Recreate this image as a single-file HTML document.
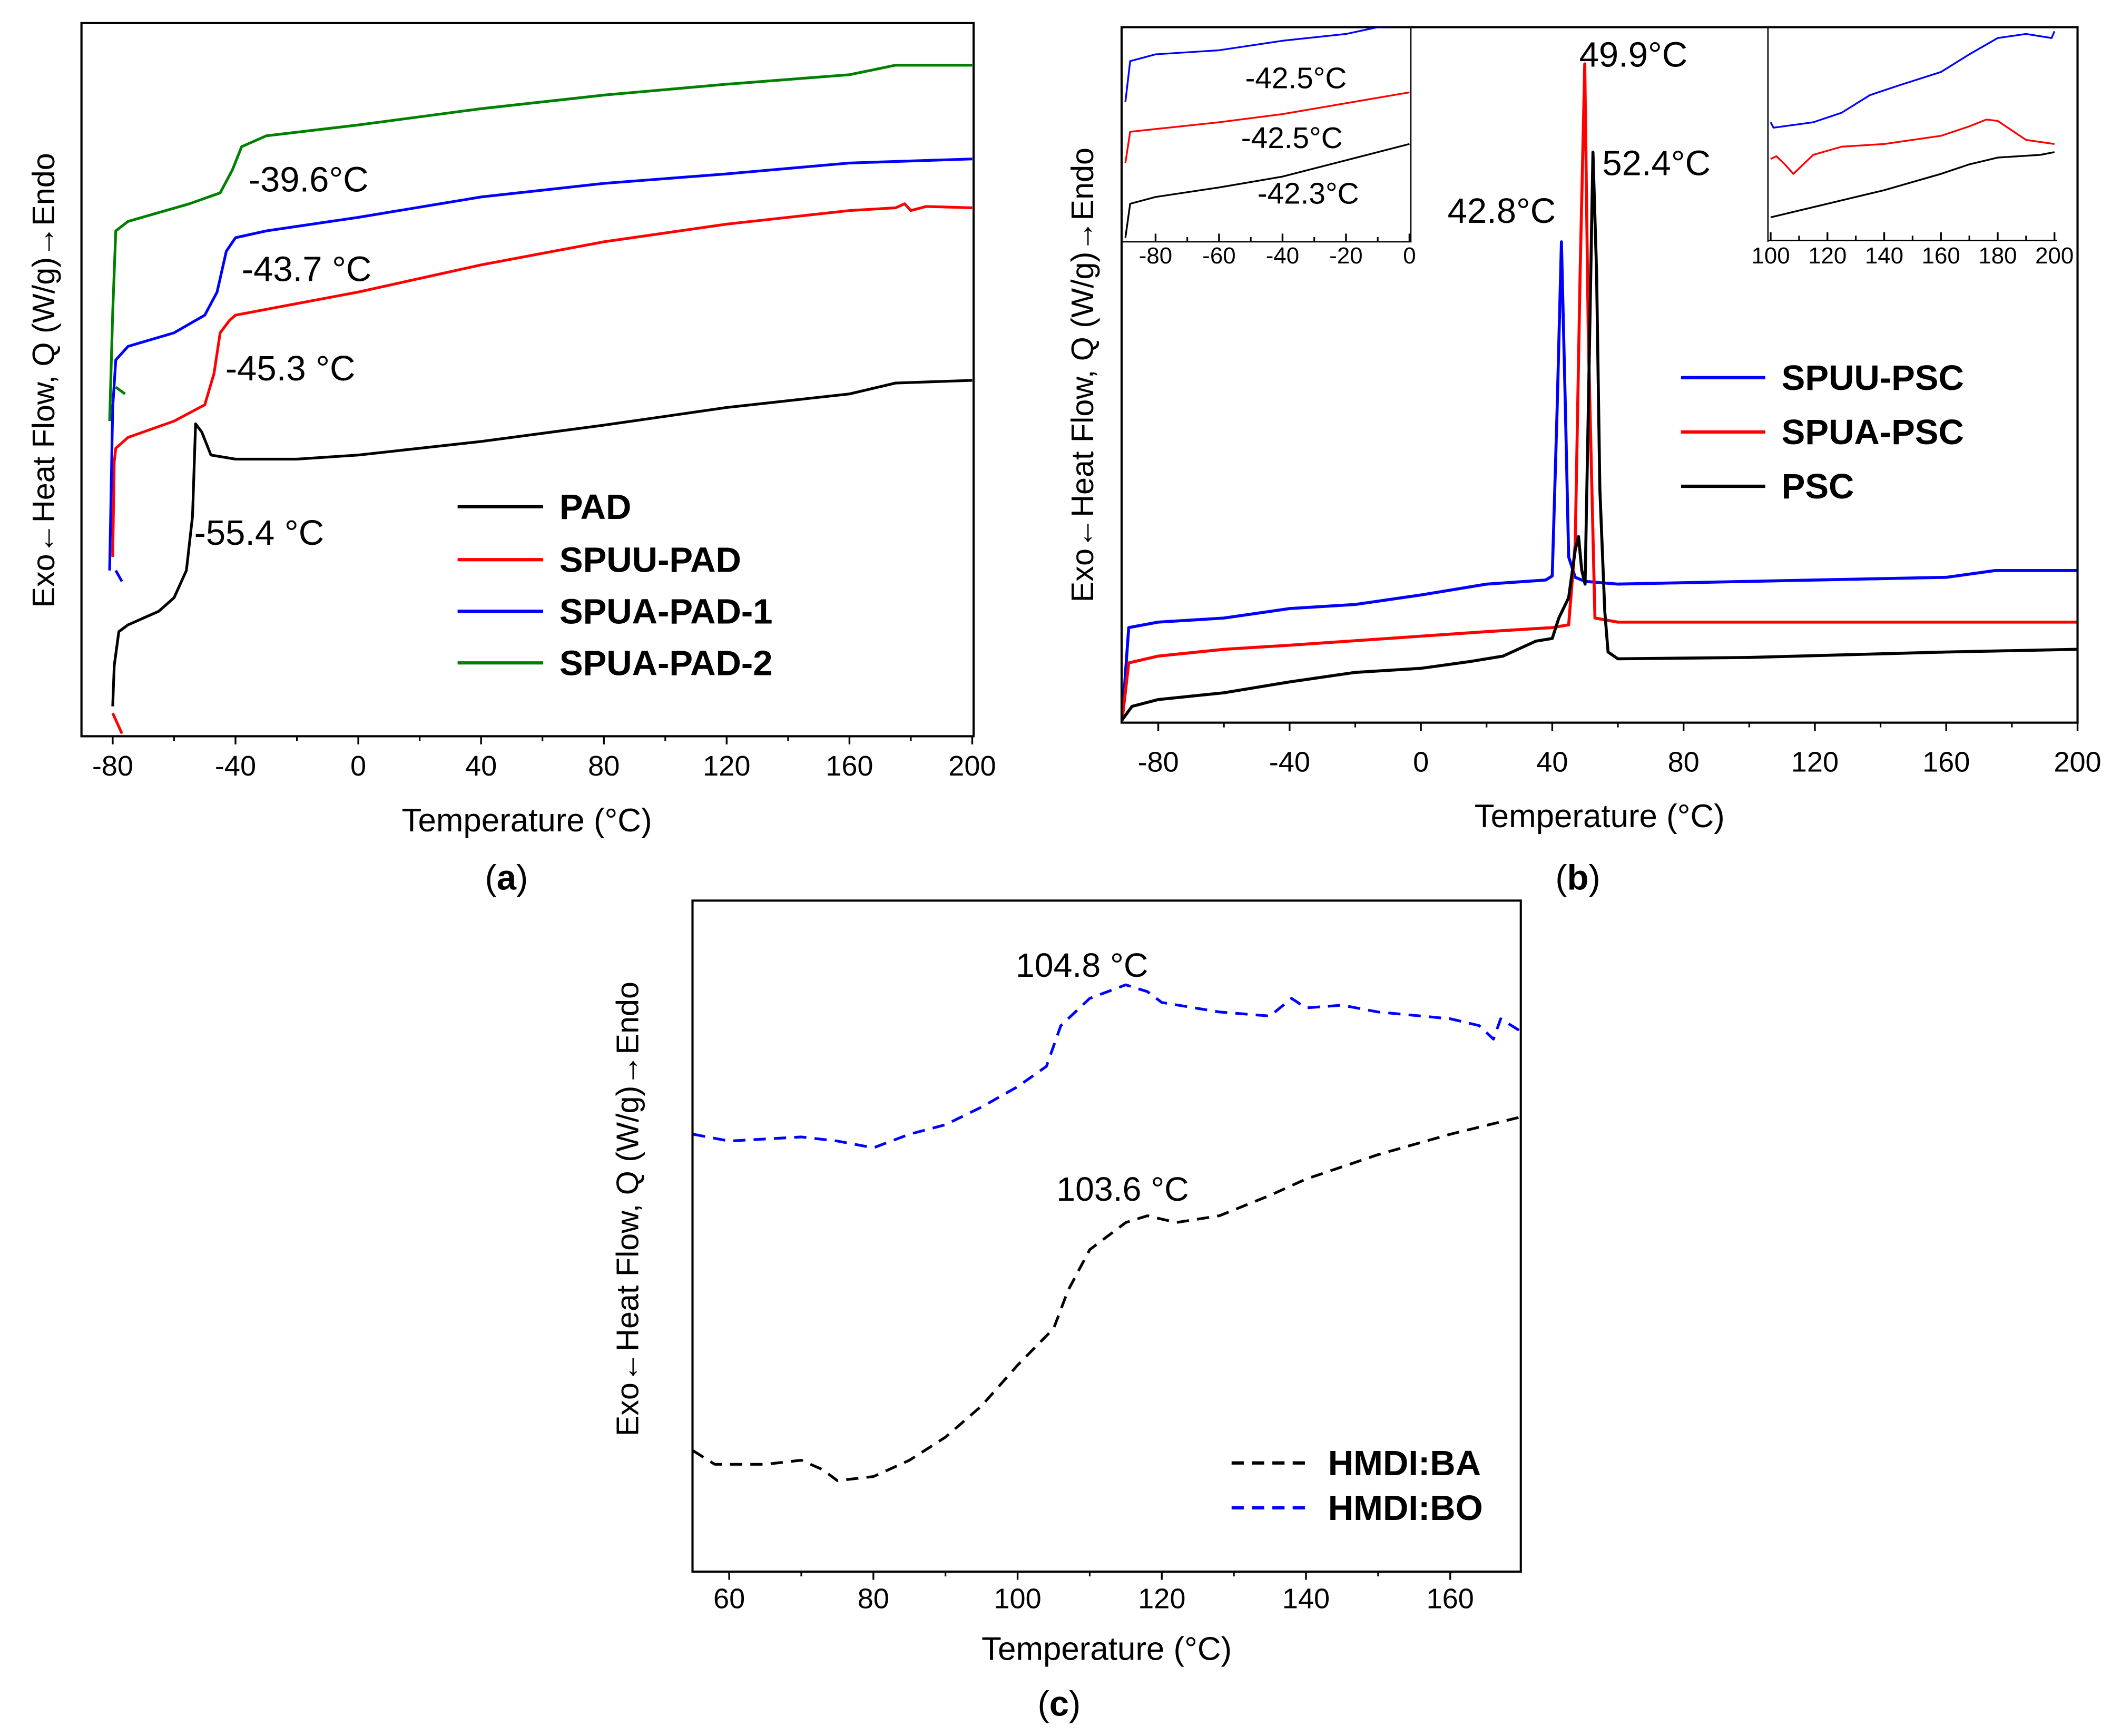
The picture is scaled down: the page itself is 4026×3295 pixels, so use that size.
<!DOCTYPE html>
<html><head><meta charset="utf-8"><style>
html,body{margin:0;padding:0;background:#fff;}
svg{display:block;}
text{font-family:"Liberation Sans",Arial,sans-serif;}
</style></head><body>
<svg id="fig" width="4026" height="3295" viewBox="0 0 1562 1278" preserveAspectRatio="none" xmlns="http://www.w3.org/2000/svg"></svg>
<script>
// ---------- Panel (a) data ----------
const aPadT=[-80,-79.5,-78,-75,-70,-65,-60,-56,-54,-53,-51,-48,-40,-20,0,40,80,120,160,175,200];
const aPadV=[22,52,77,82,87,92,102,122,162,230,224,207,204,204,207,217,229,242,252,260,262];
const aSpuuT=[-80,-79.5,-79,-75,-60,-50,-47,-45,-42,-40,0,40,80,120,160,175,178,180,185,200];
const aSpuuV=[132,202,212,220,232,244,267,297,306,310,327,347,364,377,387,389,392,387,390,389];
const aSpua1T=[-81,-80,-79,-75,-60,-50,-46,-43,-40,-30,0,40,80,120,160,200];
const aSpua1V=[122,242,277,287,297,310,327,357,367,372,382,397,407,414,422,425];
const aSpua2T=[-81,-80,-79,-75,-55,-45,-41,-38,-30,0,40,80,120,160,175,200];
const aSpua2V=[232,312,372,379,392,400,417,434,442,450,462,472,480,487,494,494];
const aTicks=[-80,-40,0,40,80,120,160,200];
// ---------- Panel (b) data ----------
const bSpuuT=[-91,-89,-80,-60,-40,-20,0,20,38,40,41.5,42.8,44,45,47,50,60,100,160,175,200];
const bSpuuV=[2,70,74,77,84,87,94,102,105,108,232,354,232,122,107,104,102,104,107,112,112];
const bSpuaT=[-91,-89,-80,-60,-40,-10,20,40,45,47,48.5,49.9,51,53,60,200];
const bSpuaV=[2,44,49,54,57,62,67,70,72,132,332,485,282,77,74,74];
const bPscT=[-91,-88,-80,-60,-40,-20,0,15,25,35,40,42,45,47,48,49,50,51,52.4,53.5,54.5,56,57,60,100,160,200];
const bPscV=[2,12,17,22,30,37,40,45,49,60,62,77,92,127,137,112,102,232,420,332,172,82,52,47,48,52,54];
const bTicks=[-80,-40,0,40,80,120,160,200];
// inset left
const iLBlueT=[-89.5,-88,-80,-60,-40,-20,-10,-7];
const iLBlueV=[103,133,138,141,148,153,158,158];
const iLRedT=[-89.5,-88,-80,-60,-40,-20,0];
const iLRedV=[58,81,83,88,94,102,110];
const iLBlackT=[-89.5,-88,-80,-60,-40,-20,0];
const iLBlackV=[3,28,33,40,48,60,72];
const iLTicks=[-80,-60,-40,-20,0];
// inset right
const iRBlueT=[100,101,115,125,135,145,160,170,180,190,199,200];
const iRBlueV=[88,84,88,95,108,115,125,138,150,153,150,155];
const iRRedT=[100,102,105,108,115,125,140,160,170,176,180,190,200];
const iRRedV=[61,63,57,50,64,70,72,78,85,90,89,75,72];
const iRBlackT=[100,120,140,160,170,180,195,200];
const iRBlackV=[18,28,38,50,57,62,64,66];
const iRTicks=[100,120,140,160,180,200];
// ---------- Panel (c) data ----------
const cBoT=[55,60,70,75,80,85,90,95,100,104,106,110,115,118,120,128,135,138,140,145,150,160,164,166,167,170];
const cBoV=[322,317,320,317,312,322,329,342,357,372,402,422,432,427,419,412,409,422,415,417,412,407,402,392,407,397];
const cBaT=[55,58,65,70,73,75,80,85,90,95,100,105,107,110,115,118,122,128,135,140,150,160,170];
const cBaV=[89,79,79,82,75,67,70,82,99,122,152,179,207,237,257,262,257,262,277,289,307,322,335];
const cTicks=[60,80,100,120,140,160];

const NS="http://www.w3.org/2000/svg";
const svg=document.getElementById('fig');
function mk(tag,attrs,parent){const e=document.createElementNS(NS,tag);for(const k in attrs)e.setAttribute(k,attrs[k]);(parent||svg).appendChild(e);return e;}
function txt(s,x,y,size,opts,parent){const e=mk('text',Object.assign({x:x,y:y,'font-size':size},opts||{}),parent);e.textContent=s;return e;}
function scale(d0,d1,r0,r1){return v=>r0+(v-d0)/(d1-d0)*(r1-r0);}
function line(ts,vs,sx,sy,color,w,dash,name){
  let d='';for(let i=0;i<ts.length;i++)d+=(i?'L':'M')+sx(ts[i]).toFixed(2)+','+sy(vs[i]).toFixed(2);
  const p=mk('path',{d:d,fill:'none',stroke:color,'stroke-width':w,'stroke-linejoin':'round'});
  if(dash)p.setAttribute('stroke-dasharray',dash);
  
  
  return p;
}
function box(x0,y0,x1,y1,name,w){const r=mk('rect',{x:x0,y:y0,width:x1-x0,height:y1-y0,fill:'none',stroke:'#000','stroke-width':w||1.6});
  
  return r;}
function xTicks(ticks,sx,yb,ly,size,name,inside,minor){
  ticks.forEach(t=>{const x=sx(t);
    mk('line',{x1:x,x2:x,y1:yb,y2:inside?yb-6:yb+6,stroke:'#000','stroke-width':1.3});
    const l=txt(String(t),x,ly,size,{'text-anchor':'middle'});
    
    
  });
  if(minor){for(let i=0;i<ticks.length-1;i++){const x=sx((ticks[i]+ticks[i+1])/2);
    mk('line',{x1:x,x2:x,y1:yb,y2:inside?yb-3.5:yb+3.5,stroke:'#000','stroke-width':1.2});}}
}
function legend(x0,x1,tx,y,color,label,dash,name){
  const l=mk('line',{x1:x0,x2:x1,y1:y,y2:y,stroke:color,'stroke-width':2.4});
  if(dash)l.setAttribute('stroke-dasharray',dash);
  
  
  const t=txt(label,tx,y+9,26,{'font-weight':'bold'});
  
  
}
function ann(s,x,y,size,name){const t=txt(s,x,y,size);
  
  }
function ylab(x,y,name){const t=txt('Exo\u2190Heat Flow, Q (W/g)\u2192Endo',x,y,23,{'text-anchor':'middle',transform:'rotate(-90 '+x+' '+y+')'});
  
  }
function xlab(x,y,name){const t=txt('Temperature (\u00B0C)',x,y,24,{'text-anchor':'middle'});
  
  }
function plabel(s,x,y,name){const t=mk('text',{x:x,y:y,'font-size':26,'text-anchor':'middle','font-family':'Liberation Serif, serif'});
  t.appendChild(document.createTextNode('('));
  const b=mk('tspan',{'font-weight':'bold'},t);b.textContent=s;
  t.appendChild(document.createTextNode(')'));
  
  }

// ===== Panel (a) =====
{const sx=scale(-80,200,83,716), sy=scale(0,525,542,17);
 line(aPadT,aPadV,sx,sy,'#000',2,null,'pad-curve');
 line(aSpuuT,aSpuuV,sx,sy,'#ff0000',2,null,'spuu-pad-curve');
 line(aSpua1T,aSpua1V,sx,sy,'#0000ff',2,null,'spua-pad-1-curve');
 line(aSpua2T,aSpua2V,sx,sy,'#008000',2,null,'spua-pad-2-curve');
 mk('line',{x1:sx(-80),y1:sy(17),x2:sx(-77),y2:sy(2),stroke:'#ff0000','stroke-width':2});
 mk('line',{x1:sx(-79),y1:sy(122),x2:sx(-77),y2:sy(114),stroke:'#0000ff','stroke-width':2});
 mk('line',{x1:sx(-79),y1:sy(257),x2:sx(-76),y2:sy(252),stroke:'#008000','stroke-width':2});
 box(60,17,717,542,'panel-a-plot-frame');
 xTicks(aTicks,sx,542,571,21,'panel-a-x-tick-label',false,true);
 ann('-39.6\u00B0C',183,141,26,'tg-label-spua-pad-2');
 ann('-43.7 \u00B0C',178,207,26,'tg-label-spua-pad-1');
 ann('-45.3 \u00B0C',166,280,26,'tg-label-spuu-pad');
 ann('-55.4 \u00B0C',143,401,26,'tg-label-pad');
 legend(337,400,412,373,'#000','PAD',null,'legend-pad');
 legend(337,400,412,412,'#ff0000','SPUU-PAD',null,'legend-spuu-pad');
 legend(337,400,412,450,'#0000ff','SPUA-PAD-1',null,'legend-spua-pad-1');
 legend(337,400,412,488,'#008000','SPUA-PAD-2',null,'legend-spua-pad-2');
 ylab(40,280,'panel-a-y-axis-title');
 xlab(388,612,'panel-a-x-axis-title');
 plabel('a',373,655,'panel-a-caption');
}
// ===== Panel (b) =====
{const sx=scale(-80,200,853,1530), sy=scale(0,512,532,20);
 line(bSpuuT,bSpuuV,sx,sy,'#0000ff',2.2,null,'spuu-psc-curve');
 line(bSpuaT,bSpuaV,sx,sy,'#ff0000',2.2,null,'spua-psc-curve');
 line(bPscT,bPscV,sx,sy,'#000',2.2,null,'psc-curve');
 box(826,20,1530,532,'panel-b-plot-frame');
 xTicks(bTicks,sx,532,568,21,'panel-b-x-tick-label',false,true);
 ann('49.9\u00B0C',1163,49,26,'peak-label-spua-psc');
 ann('52.4\u00B0C',1180,129,26,'peak-label-psc');
 ann('42.8\u00B0C',1066,164,26,'peak-label-spuu-psc');
 legend(1238,1300,1312,278,'#0000ff','SPUU-PSC',null,'legend-spuu-psc');
 legend(1238,1300,1312,318,'#ff0000','SPUA-PSC',null,'legend-spua-psc');
 legend(1238,1300,1312,358,'#000','PSC',null,'legend-psc');
 ylab(805,276,'panel-b-y-axis-title');
 xlab(1178,609,'panel-b-x-axis-title');
 plabel('b',1162,655,'panel-b-caption');
 // inset left
 const lx=scale(-80,0,851,1038), ly=scale(0,158,178,20);
 line(iLBlueT,iLBlueV,lx,ly,'#0000ff',1.3,null,'inset-left-spuu-psc');
 line(iLRedT,iLRedV,lx,ly,'#ff0000',1.3,null,'inset-left-spua-psc');
 line(iLBlackT,iLBlackV,lx,ly,'#000',1.3,null,'inset-left-psc');
 box(826,20,1039,178,'inset-left-frame',1);
 xTicks(iLTicks,lx,178,194,17,'inset-left-tick-label',true,true);
 ann('-42.5\u00B0C',917,65,22,'inset-tg-spuu-psc');
 ann('-42.5\u00B0C',914,109,22,'inset-tg-spua-psc');
 ann('-42.3\u00B0C',926,150,22,'inset-tg-psc');
 // inset right
 const rx=scale(100,200,1304,1513), ry=scale(0,158,178,20);
 line(iRBlueT,iRBlueV,rx,ry,'#0000ff',1.3,null,'inset-right-spuu-psc');
 line(iRRedT,iRRedV,rx,ry,'#ff0000',1.3,null,'inset-right-spua-psc');
 line(iRBlackT,iRBlackV,rx,ry,'#000',1.3,null,'inset-right-psc');
 mk('line',{x1:1302,x2:1302,y1:20,y2:178,stroke:'#000','stroke-width':1});
 mk('line',{x1:1302,x2:1515,y1:177,y2:177,stroke:'#000','stroke-width':1});
 xTicks(iRTicks,rx,177,194,17,'inset-right-tick-label',true,true);
}
// ===== Panel (c) =====
{const sx=scale(60,160,537,1068), sy=scale(0,494,1157,663);
 line(cBoT,cBoV,sx,sy,'#0000ff',2,'9,6','hmdi-bo-curve');
 line(cBaT,cBaV,sx,sy,'#000',2,'9,6','hmdi-ba-curve');
 box(510,663,1120,1157,'panel-c-plot-frame');
 xTicks(cTicks,sx,1157,1184,21,'panel-c-x-tick-label',false,true);
 ann('104.8 \u00B0C',748,719,25,'peak-label-hmdi-bo');
 ann('103.6 \u00B0C',778,884,25,'peak-label-hmdi-ba');
 legend(907,962,978,1077,'#000','HMDI:BA','9,6','legend-hmdi-ba');
 legend(907,962,978,1110,'#0000ff','HMDI:BO','9,6','legend-hmdi-bo');
 ylab(470,890,'panel-c-y-axis-title');
 xlab(815,1222,'panel-c-x-axis-title');
 plabel('c',780,1263,'panel-c-caption');
}
</script>
</body></html>
